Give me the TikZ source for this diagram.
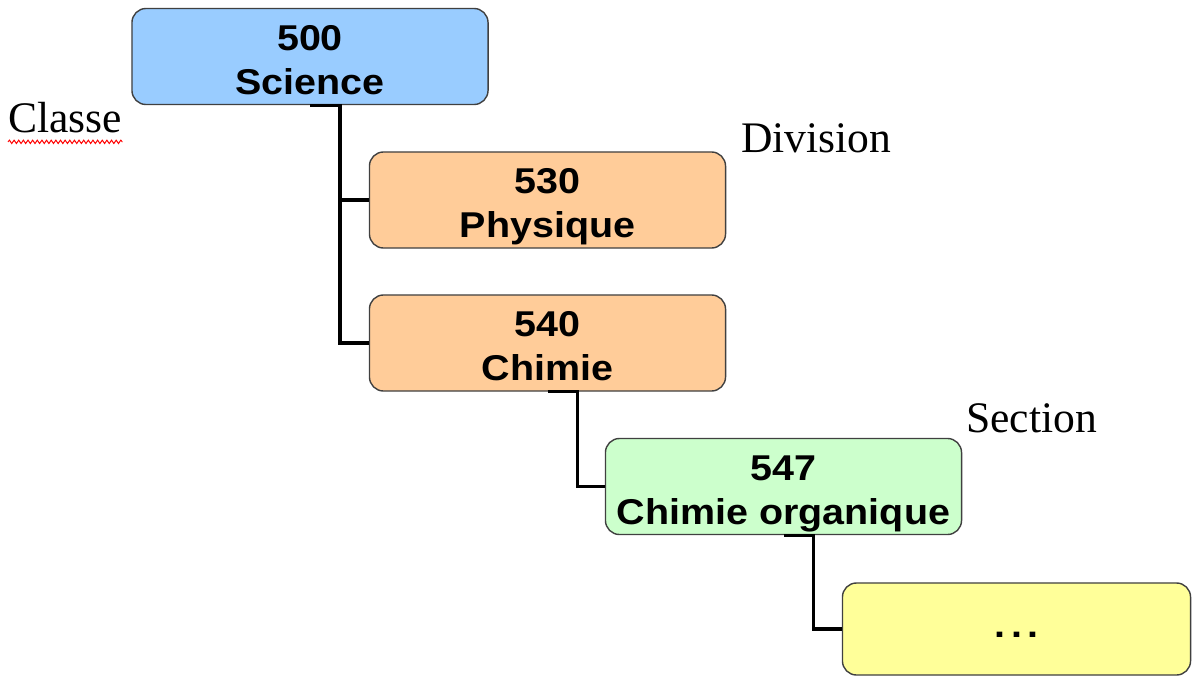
\documentclass[tikz,border=0pt]{standalone}
\usepackage{fontspec}
\setmainfont{Liberation Serif}
\newfontfamily\boxfont[FakeStretch=1.1]{Liberation Sans}
\usetikzlibrary{decorations.pathmorphing}

\definecolor{classblue}{HTML}{99CCFF}
\definecolor{divorange}{HTML}{FFCC99}
\definecolor{secgreen}{HTML}{CCFFCC}
\definecolor{nextyellow}{HTML}{FFFF99}

\begin{document}
\begin{tikzpicture}[x=0.025cm, y=-0.025cm,
    box/.style={draw=black!75, line width=1pt, rounded corners=10pt,
                minimum width=8.9cm, minimum height=2.4cm, inner sep=0pt,
                align=center, text height=54pt, text depth=0pt,
                font=\boxfont\bfseries\fontsize{25.5}{31.3}\selectfont},
    link/.style={line width=2.3pt},
    tag/.style={anchor=base west, inner sep=0pt,
                font=\fontsize{31}{36}\selectfont}]
    \useasboundingbox (0,0) rectangle (1192,677);

    % the boxes
    \node[box, fill=classblue]  (b500) at ( 310,  56.5) {500\\Science};
    \node[box, fill=divorange]  (b530) at ( 547.5, 200) {530\\Physique};
    \node[box, fill=divorange]  (b540) at ( 547.5, 343) {540\\Chimie};
    \node[box, fill=secgreen]   (b547) at ( 783.5, 486.5) {547\\Chimie organique};
    \node[box, fill=nextyellow, minimum width=8.7cm, minimum height=2.3cm,
          text height=12pt, text depth=0pt]
                                (bnext) at (1016.5, 629) {.\kern4pt.\kern4pt.};

    % the links
    \draw[link] (b500.south) -- ++(30,0) |- (b530.west);
    \draw[link] (b500.south) -- ++(30,0) |- (b540.west);
    \draw[link] (b540.south) -- ++(30,0) |- (b547.west);
    \draw[link] (b547.south) -- ++(30,0) |- (bnext.west);

    % the levels
    \node[tag] (lclasse)   at (  8, 132) {Classe};
    \node[tag] (ldivision) at (741, 152) {Division};
    \node[tag] (lsection)  at (966, 432) {Section};
    \draw[red, line width=0.7pt, decorate,
          decoration={snake, segment length=3.3pt, amplitude=1.2pt}]
        ([yshift=-7pt]lclasse.base west) -- ([yshift=-7pt]lclasse.base east);
\end{tikzpicture}
\end{document}
